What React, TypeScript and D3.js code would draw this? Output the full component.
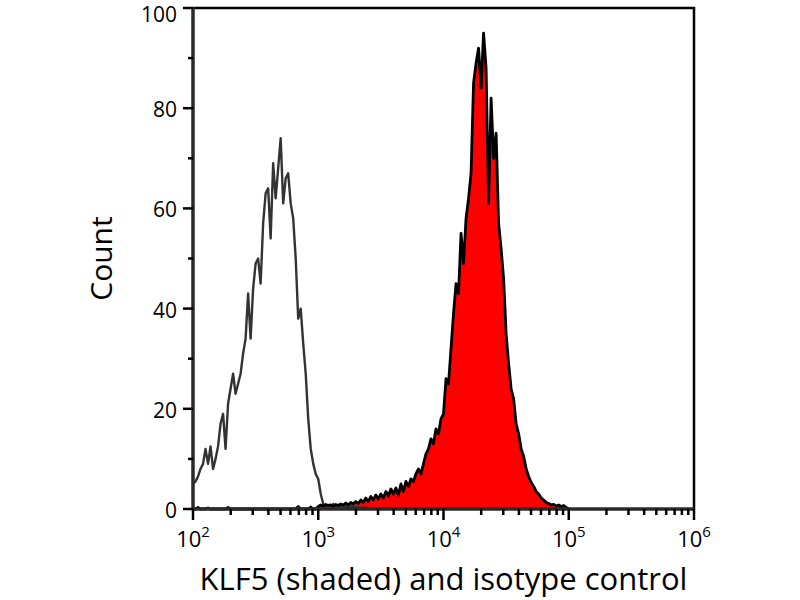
import { useEffect, useRef } from "react";
import * as d3 from "d3";

// histogram channels, log10 step of 0.02 starting at 10^2
const binStart = 2;
const binStep = 0.02;

const isotypeCounts = [
  5, 5.5, 6.5, 8, 9, 12, 9, 12.5, 8, 10, 12.5, 17, 19, 12, 21, 24, 27, 23, 25, 27,
  31, 34, 43, 34, 44, 49, 50, 45, 57, 63, 64, 54, 69, 62, 68, 74, 61, 66, 67, 61,
  58, 50, 38, 40, 33, 27, 18, 12, 9, 7, 6, 3, 1, 0.5, 0.8, 0.5, 1, 0.6, 0.8, 0.4,
  0.7, 0.5, 0.6, 0.4, 0.5, 0.3, 0.4, 0.2, 0.3, 0.2, 0.1, 0,
];

const klf5Counts = [
  0, 0, 0.3, 0, 0, 0, 0.2, 0, 0, 0, 0, 0, 0, 0, 0.3, 0, 0, 0, 0, 0,
  0, 0, 0, 0, 0, 0, 0, 0, 0, 0, 0, 0, 0, 0, 0, 0, 0, 0, 0, 0,
  0, 0, 0.5, 0, 0, 0, 0, 0.4, 0, 0, 0.5, 0.8, 0.6, 0.9, 0.7, 0.8, 0.5, 0.9, 0.7, 1,
  0.8, 1.2, 0.8, 1.3, 1, 1.5, 1.1, 1.8, 1.3, 2.2, 1.5, 2.5, 1.8, 2.8, 2, 3, 2.2, 3.5, 2.6, 4,
  3, 4.2, 2.8, 5, 3.5, 5.5, 4.5, 6, 5.5, 7, 8, 7, 9, 11, 12, 14, 13, 16, 15, 18,
  19, 26, 25, 32, 39, 45, 43, 55, 49, 58, 62, 67, 85, 89, 92, 84, 95, 88, 61, 82,
  70, 75, 57, 52, 46, 35, 29, 24, 22, 17, 15, 12, 10.5, 8, 6.5, 5.3, 4.5, 3.5, 3, 2.2,
  1.8, 1.3, 1.1, 0.8, 0.9, 0.6, 0.8, 0.5, 0.7, 0.3, 0,
];

const yTicks = [0, 20, 40, 60, 80, 100];
const yMinorTicks = [10, 30, 50, 70, 90];
const xDecades = [2, 3, 4, 5, 6];

const xTitle = "KLF5 (shaded) and isotype control";
const yTitle = "Count";

const font = "'Open Sans', 'DejaVu Sans', sans-serif";

export default function App() {
  const svgRef = useRef<SVGSVGElement | null>(null);
  const width = 800;
  const height = 600;

  useEffect(() => {
    const svg = d3.select(svgRef.current);
    svg.selectAll("*").remove();

    const margin = { top: 8, right: 106, bottom: 91, left: 193 };

    const x = d3
      .scaleLog()
      .domain([1e2, 1e6])
      .range([margin.left, width - margin.right]);

    const y = d3
      .scaleLinear()
      .domain([0, 100])
      .range([height - margin.bottom, margin.top]);

    const toPoints = (counts: number[]) =>
      counts.map((c, i) => [Math.pow(10, binStart + i * binStep), c] as [number, number]);

    const line = d3
      .line<[number, number]>()
      .x((d) => x(d[0]))
      .y((d) => y(d[1]));

    const area = d3
      .area<[number, number]>()
      .x((d) => x(d[0]))
      .y0(y(0))
      .y1((d) => y(d[1]));

    const klf5 = toPoints(klf5Counts);
    const iso = toPoints(isotypeCounts);

    svg.append("path").datum(klf5).attr("fill", "#ff0000").attr("d", area);

    svg
      .append("path")
      .datum(iso)
      .attr("fill", "none")
      .attr("stroke", "#333333")
      .attr("stroke-width", 2.4)
      .attr("stroke-linejoin", "round")
      .attr("d", line);

    svg
      .append("path")
      .datum(klf5)
      .attr("fill", "none")
      .attr("stroke", "#000000")
      .attr("stroke-width", 2.8)
      .attr("stroke-linejoin", "round")
      .attr("d", line);

    // frame: top and right
    const x0 = margin.left;
    const x1 = width - margin.right;
    const yTop = margin.top;
    const yBot = height - margin.bottom;
    svg
      .append("path")
      .attr("d", `M${x0},${yTop}H${x1}V${yBot}`)
      .attr("fill", "none")
      .attr("stroke", "#000")
      .attr("stroke-width", 2.5);

    // left axis
    const gy = svg.append("g");
    gy.append("line")
      .attr("x1", x0)
      .attr("x2", x0)
      .attr("y1", yTop - 1)
      .attr("y2", yBot + 1)
      .attr("stroke", "#2a2a2a")
      .attr("stroke-width", 3.5);
    yTicks.forEach((t) => {
      gy.append("line")
        .attr("x1", x0 - 10)
        .attr("x2", x0)
        .attr("y1", y(t))
        .attr("y2", y(t))
        .attr("stroke", "#000")
        .attr("stroke-width", 2.5);
      gy.append("text")
        .attr("x", x0 - 16)
        .attr("y", Math.max(y(t) + 1, 14))
        .attr("text-anchor", "end")
        .attr("dominant-baseline", "central")
        .attr("font-family", font)
        .attr("font-size", 21)
        .attr("fill", "#000")
        .text(t);
    });
    yMinorTicks.forEach((t) => {
      gy.append("line")
        .attr("x1", x0 - 5)
        .attr("x2", x0)
        .attr("y1", y(t))
        .attr("y2", y(t))
        .attr("stroke", "#000")
        .attr("stroke-width", 2.5);
    });

    // bottom axis
    const gx = svg.append("g");
    gx.append("line")
      .attr("x1", x0)
      .attr("x2", x1)
      .attr("y1", yBot)
      .attr("y2", yBot)
      .attr("stroke", "#2a2a2a")
      .attr("stroke-width", 3.5);
    xDecades.forEach((e) => {
      const v = Math.pow(10, e);
      gx.append("line")
        .attr("x1", x(v))
        .attr("x2", x(v))
        .attr("y1", yBot)
        .attr("y2", yBot + 11)
        .attr("stroke", "#000")
        .attr("stroke-width", 2.5);
      const label = gx
        .append("text")
        .attr("x", x(v))
        .attr("y", yBot + 38)
        .attr("text-anchor", "middle")
        .attr("font-family", font)
        .attr("font-size", 22)
        .attr("fill", "#000");
      label.append("tspan").text("10");
      label
        .append("tspan")
        .attr("dy", -10)
        .attr("font-size", 15)
        .text(e);
      if (e < 6) {
        for (let m = 2; m <= 9; m++) {
          const mv = m * v;
          gx.append("line")
            .attr("x1", x(mv))
            .attr("x2", x(mv))
            .attr("y1", yBot)
            .attr("y2", yBot + 6)
            .attr("stroke", "#000")
            .attr("stroke-width", 2.5);
        }
      }
    });

    svg
      .append("text")
      .attr("x", (x0 + x1) / 2)
      .attr("y", 590)
      .attr("text-anchor", "middle")
      .attr("font-family", font)
      .attr("font-size", 31)
      .attr("fill", "#000")
      .text(xTitle);

    svg
      .append("text")
      .attr("transform", `translate(112,${(yTop + yBot) / 2}) rotate(-90)`)
      .attr("text-anchor", "middle")
      .attr("font-family", font)
      .attr("font-size", 30)
      .attr("fill", "#000")
      .text(yTitle);
  }, []);

  return (
    <svg
      ref={svgRef}
      width={width}
      height={height}
      style={{ position: "absolute", left: 0, top: 0, background: "#fff" }}
    ></svg>
  );
}
